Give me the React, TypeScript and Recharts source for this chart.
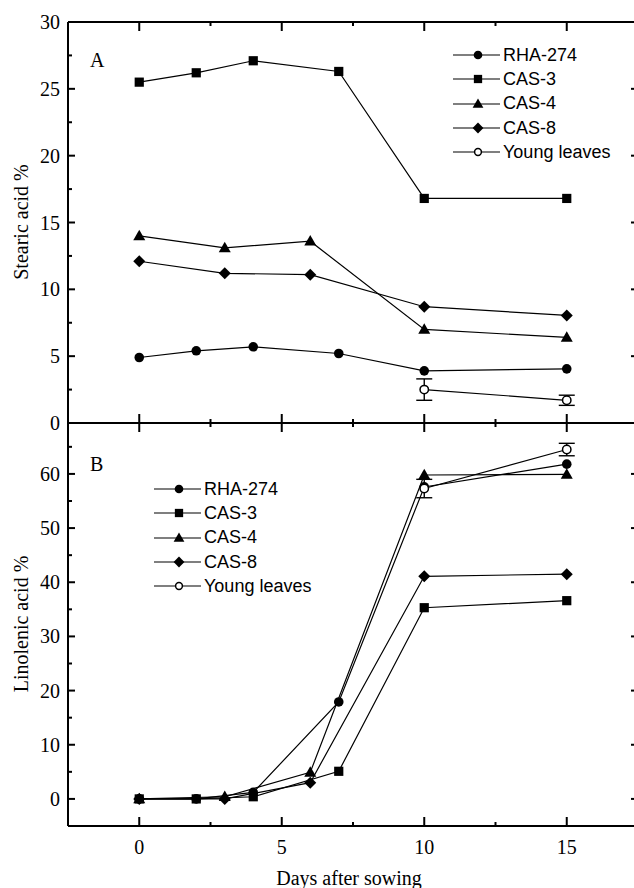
import { LineChart, Line, XAxis, YAxis, ErrorBar, Legend } from 'recharts'

// sampling days: RHA-274 & CAS-3 at 0,2,4,7,10,15; CAS-4 & CAS-8 at 0,3,6,10,15; young leaves at 10,15
const days = [0, 2, 3, 4, 6, 7, 10, 15]

// A: stearic acid % (null = not sampled that day)
const stearicRHA = [4.9, 5.4, null, 5.7, null, 5.2, 3.9, 4.05]
const stearicCAS3 = [25.5, 26.2, null, 27.1, null, 26.3, 16.8, 16.8]
const stearicCAS4 = [14.0, null, 13.1, null, 13.6, null, 7.0, 6.4]
const stearicCAS8 = [12.1, null, 11.2, null, 11.1, null, 8.7, 8.05]
const stearicYoung = [null, null, null, null, null, null, 2.5, 1.7]
const stearicYoungErr = [null, null, null, null, null, null, 0.8, 0.38]

// B: linolenic acid %
const linolenicRHA = [0, 0, null, 1.2, null, 17.9, 57.6, 61.8]
const linolenicCAS3 = [0, 0, null, 0.4, null, 5.1, 35.3, 36.6]
const linolenicCAS4 = [0, null, 0.4, null, 4.9, null, 59.8, 59.9]
const linolenicCAS8 = [0, null, 0, null, 3.0, null, 41.1, 41.5]
const linolenicYoung = [null, null, null, null, null, null, 57.3, 64.5]
const linolenicYoungErr = [null, null, null, null, null, null, 1.7, 1.15]

const seriesNames = ['RHA-274', 'CAS-3', 'CAS-4', 'CAS-8', 'Young leaves']
const seriesKeys = ['rha', 'cas3', 'cas4', 'cas8', 'young']
const shapes = ['circle', 'square', 'triangle', 'diamond', 'open']

const xTicks = [0, 2.5, 5, 7.5, 10, 12.5, 15]
const stearicTicks = [0, 2.5, 5, 7.5, 10, 12.5, 15, 17.5, 20, 22.5, 25, 27.5, 30]
const linolenicTicks = [0, 5, 10, 15, 20, 25, 30, 35, 40, 45, 50, 55, 60, 65]

const SERIF = '"Liberation Serif", "Times New Roman", serif'
const SANS = '"Liberation Sans", Arial, sans-serif'
const M = 8
const TICK_W = 2

const table = (cols: (number | null)[][], err: (number | null)[]) =>
  days.map((x, i) => {
    const row: Record<string, number | null> = { x }
    seriesKeys.forEach((k, j) => (row[k] = cols[j][i]))
    row.err = err[i]
    return row
  })

function Marker({ shape, cx, cy, small }: { shape: string; cx: number; cy: number; small?: boolean }) {
  const k = small ? 0.9 : 1
  switch (shape) {
    case 'circle':
      return <circle cx={cx} cy={cy} r={4.8 * k} fill="#000" />
    case 'square':
      return <rect x={cx - 4.6 * k} y={cy - 4.6 * k} width={9.2 * k} height={9.2 * k} fill="#000" />
    case 'triangle':
      return <polygon points={`${cx},${cy - 6.2 * k} ${cx + 6 * k},${cy + 4.3 * k} ${cx - 6 * k},${cy + 4.3 * k}`} fill="#000" />
    case 'diamond':
      return <polygon points={`${cx},${cy - 6 * k} ${cx + 6 * k},${cy} ${cx},${cy + 6 * k} ${cx - 6 * k},${cy}`} fill="#000" />
    default:
      return <circle cx={cx} cy={cy} r={small ? 3.4 : 4.2} fill="#fff" stroke="#000" strokeWidth={1.5} />
  }
}

const dotFor = (shape: string) => (p: any) => {
  if (p.value == null || p.cx == null || p.cy == null) return <g key={`e${p.index}`} />
  return (
    <g key={`d${p.index}`}>
      <Marker shape={shape} cx={p.cx} cy={p.cy} />
    </g>
  )
}

const leftTick = (step: number) => (p: any) => {
  const v = p.payload.value
  const big = v % step === 0
  const ax = p.x + M
  return (
    <g>
      <line x1={ax} x2={ax + (big ? 7 : 4)} y1={p.y} y2={p.y} stroke="#000" strokeWidth={TICK_W} />
      {big && (
        <text x={ax - 8} y={p.y} dy="0.35em" textAnchor="end" fontFamily={SERIF} fontSize={20} fill="#000">
          {v}
        </text>
      )}
    </g>
  )
}

const rightTick = (step: number) => (p: any) => {
  const v = p.payload.value
  const big = v % step === 0
  const ax = p.x - M
  return (
    <g>
      <line x1={ax} x2={ax - (big ? 7 : 4)} y1={p.y} y2={p.y} stroke="#000" strokeWidth={TICK_W} />
    </g>
  )
}

const bottomTick = (labels: boolean) => (p: any) => {
  const v = p.payload.value
  const big = v % 5 === 0
  const ay = p.y - M
  return (
    <g>
      <line x1={p.x} x2={p.x} y1={ay} y2={ay - (big ? 9 : 4)} stroke="#000" strokeWidth={TICK_W} />
      {labels && big && (
        <text x={p.x} y={ay + 21} dy="0.35em" textAnchor="middle" fontFamily={SERIF} fontSize={20} fill="#000">
          {v}
        </text>
      )}
    </g>
  )
}

const topTick = (p: any) => {
  const v = p.payload.value
  const big = v % 5 === 0
  const ay = p.y + M
  return (
    <g>
      <line x1={p.x} x2={p.x} y1={ay} y2={ay + (big ? 9 : 4)} stroke="#000" strokeWidth={TICK_W} />
    </g>
  )
}

function LegendBox() {
  return (
    <div style={{ fontFamily: SANS, fontSize: 18, color: '#000' }}>
      {seriesNames.map((n, i) => (
        <div key={n} style={{ display: 'flex', alignItems: 'center', height: 24.3 }}>
          <svg width={47} height={24}>
            <line x1={0} x2={47} y1={12} y2={12} stroke="#000" strokeWidth={1.2} />
            <Marker shape={shapes[i]} cx={25} cy={12} small />
          </svg>
          <span style={{ marginLeft: 3, whiteSpace: 'nowrap' }}>{n}</span>
        </div>
      ))}
    </div>
  )
}

type PanelProps = {
  data: Record<string, number | null>[]
  yDomain: [number, number]
  yTicks: number[]
  yStep: number
  height: number
  margin: { top: number; right: number; bottom: number; left: number }
  xAxisHeight: number
  xLabels: boolean
  legendPos: { top: number; left: number }
}

const axisLine = { stroke: '#000', strokeWidth: 2 }

function Panel({ data, yDomain, yTicks, yStep, height, margin, xAxisHeight, xLabels, legendPos }: PanelProps) {
  return (
    <LineChart width={640} height={height} margin={margin} data={data}>
      <XAxis xAxisId="b" dataKey="x" type="number" domain={[-2.5, 17.5]} allowDataOverflow ticks={xTicks}
        interval={0} height={xAxisHeight} tickSize={0} tickMargin={M} tickLine={false}
        axisLine={axisLine} tick={bottomTick(xLabels)} />
      <XAxis xAxisId="t" orientation="top" dataKey="x" type="number" domain={[-2.5, 17.5]} allowDataOverflow
        ticks={xTicks} interval={0} height={1} tickSize={0} tickMargin={M} tickLine={false}
        axisLine={axisLine} tick={topTick} />
      <YAxis yAxisId="l" type="number" domain={yDomain} allowDataOverflow ticks={yTicks} interval={0} width={68}
        tickSize={0} tickMargin={M} tickLine={false} axisLine={axisLine} tick={leftTick(yStep)} />
      <YAxis yAxisId="r" orientation="right" type="number" domain={yDomain} allowDataOverflow ticks={yTicks}
        interval={0} width={1} tickSize={0} tickMargin={M} tickLine={false}
        axisLine={axisLine} tick={rightTick(yStep)} />
      <Legend layout="vertical" align="center" verticalAlign="middle"
        wrapperStyle={{ top: legendPos.top, left: legendPos.left, width: 'auto', height: 'auto' }}
        content={() => <LegendBox />} />
      {seriesKeys.map((k, i) => (
        <Line key={k} name={seriesNames[i]} xAxisId="b" yAxisId="l" dataKey={k} connectNulls
          stroke="#000" strokeWidth={1.2} dot={dotFor(shapes[i])} isAnimationActive={false}>
          {shapes[i] === 'open' && (
            <ErrorBar dataKey="err" direction="y" width={8} stroke="#000" strokeWidth={1.4} />
          )}
        </Line>
      ))}
    </LineChart>
  )
}

export default function App() {
  const stearic = table([stearicRHA, stearicCAS3, stearicCAS4, stearicCAS8, stearicYoung], stearicYoungErr)
  const linolenic = table([linolenicRHA, linolenicCAS3, linolenicCAS4, linolenicCAS8, linolenicYoung], linolenicYoungErr)
  const title = { position: 'absolute' as const, fontFamily: SERIF, fontSize: 20, color: '#000', whiteSpace: 'nowrap' as const }
  return (
    <div style={{ position: 'absolute', left: 0, top: 0, width: 634, height: 888, overflow: 'hidden', background: '#fff' }}>
      <div style={{ position: 'absolute', left: 0, top: 0 }}>
        <Panel data={stearic} yDomain={[0, 30]} yTicks={stearicTicks} yStep={5} height={434}
          margin={{ top: 21, right: 1, bottom: 10, left: 0 }} xAxisHeight={1} xLabels={false}
          legendPos={{ top: 43, left: 453 }} />
      </div>
      <div style={{ position: 'absolute', left: 0, top: 413 }}>
        <Panel data={linolenic} yDomain={[-5, 69.4]} yTicks={linolenicTicks} yStep={10} height={475}
          margin={{ top: 9, right: 1, bottom: 0, left: 0 }} xAxisHeight={62} xLabels={true}
          legendPos={{ top: 64, left: 154 }} />
      </div>
      <div style={{ ...title, left: 90, top: 49 }}>A</div>
      <div style={{ ...title, left: 90, top: 453 }}>B</div>
      <div style={{ ...title, left: 21, top: 222, transform: 'translate(-50%, -50%) rotate(-90deg)' }}>Stearic acid %</div>
      <div style={{ ...title, left: 21, top: 624, transform: 'translate(-50%, -50%) rotate(-90deg)' }}>Linolenic acid %</div>
      <div style={{ ...title, left: 349, top: 878, transform: 'translate(-50%, -50%)' }}>Days after sowing</div>
    </div>
  )
}
